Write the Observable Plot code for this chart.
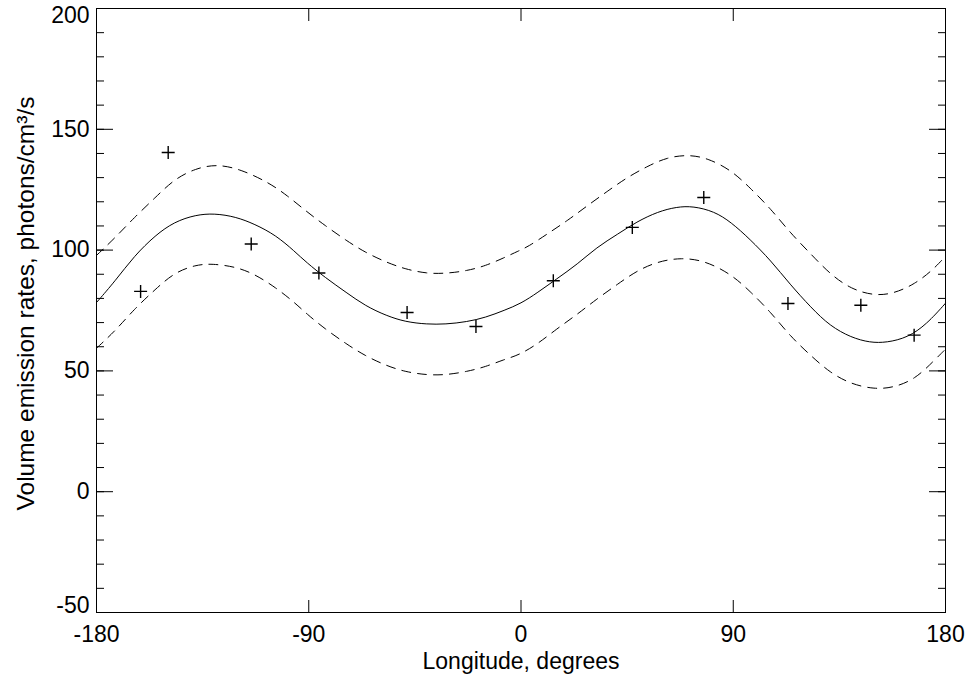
<!DOCTYPE html>
<html><head><meta charset="utf-8">
<script src="https://cdn.jsdelivr.net/npm/d3@7"></script>
<script src="https://cdn.jsdelivr.net/npm/@observablehq/plot@0.6"></script>
<style>body{margin:0;background:#fff}</style>
</head><body><div id="chart"></div>
<script>
// Tick values
const xTicks = [-180, -90, 0, 90, 180];
const yTicks = [-50, 0, 50, 100, 150, 200];
const yMinor = [-50, -40, -30, -20, -10, 0, 10, 20, 30, 40, 50, 60, 70, 80, 90, 100, 110, 120, 130, 140, 150, 160, 170, 180, 190, 200];

// Observations (crosses)
const obsLon = [-161.3, -149.6, -114.4, -85.7, -48.3, -19.1, 13.7, 47.2, 77.5, 113.2, 144.1, 166.7];
const obsVal = [82.9, 140.4, 102.5, 90.5, 74.2, 68.4, 87.3, 109.4, 121.8, 77.9, 77.2, 64.8];

// Fitted curve (solid)
const fitLon = [-180,-172,-164,-155,-147,-138,-130,-121,-113,-104,-96,-91,-83,-74,-66,-57,-49,-40,-32,-23,-15,-7,0,7,15,24,32,41,49,58,66,73,82,89,97,106,114,123,131,140,148,155,164,172,180];
const fitVal = [78.3,87.3,97.6,106.2,111.7,114.6,115.2,113.8,110.8,106.2,99.5,94.9,88.6,82.4,76.9,72.8,70.3,69.3,69.3,70.3,72.1,75.1,77.9,82.4,88,94.2,101.1,106.6,111.7,115.9,117.9,118.2,116,111.6,104.6,95.6,85.9,76.2,68.6,63.8,61.7,61.7,63.8,69.3,78];

// Upper bound (dashed)
const upLon = [-180,-172,-164,-155,-147,-138,-129,-119,-107,-99,-91,-83,-74,-66,-57,-49,-40,-32,-23,-15,-7,-1,3,11,20,28,37,45,54,62,71,79,89,97,106,114,123,131,140,150,158,167,175,180];
const upVal = [97.8,105.2,113.5,121.8,129.4,133.8,135.6,133.5,128,122.5,116,110.1,103.9,99,94.9,92.1,90.3,90.3,91.4,93.5,96.9,99.7,101.4,106.6,112.4,118.3,124.6,130.1,134.9,138.4,139.5,138.1,133.2,125.9,117,107.3,98.3,90.1,83.8,81.1,82,85.9,92.1,97.5];

// Lower bound (dashed)
const loLon = [-180,-172,-164,-155,-147,-138,-131,-121,-113,-104,-96,-91,-83,-74,-66,-57,-49,-40,-32,-23,-15,-7,-1,7,15,24,32,41,49,58,68,78,89,97,106,114,123,131,140,150,158,167,175,180];
const loVal = [59.4,66.6,75.6,83.8,90.7,93.9,94.4,93.1,90.1,84.5,78.3,73.7,67.3,61.1,56.2,52.1,49.6,48.3,48.3,49.7,51.7,54.8,56.5,61.1,67.3,73.5,79.7,85.9,91.4,95.3,96.9,95.6,90.1,83.1,74.2,64.5,56.2,49.3,44.5,42.4,43.1,46.5,54.1,59];

const xTitle = "Longitude, degrees";
const yTitle = "Volume emission rates, photons/cm³/s";

const zip = (a, b) => a.map((x, i) => ({x, y: b[i]}));
const obs = zip(obsLon, obsVal);
const fit = zip(fitLon, fitVal);
const up = zip(upLon, upVal);
const lo = zip(loLon, loVal);

const crossSym = {draw(ctx, size) {
  const r = Math.sqrt(size / Math.PI);
  ctx.moveTo(-r, 0); ctx.lineTo(r, 0);
  ctx.moveTo(0, -r); ctx.lineTo(0, r);
}};

const fmt = d => String(d);
const none = () => "";

const chart = Plot.plot({
  width: 971, height: 677,
  marginLeft: 96, marginRight: 26, marginTop: 8, marginBottom: 65,
  style: {fontFamily: "'Liberation Sans', Arial, Helvetica, sans-serif", fontSize: "23px", color: "black", background: "white", overflow: "visible"},
  x: {domain: [-180, 180], axis: null},
  y: {domain: [-50, 200], axis: null},
  marks: [
    Plot.line(up, {x: "x", y: "y", stroke: "black", strokeWidth: 1, strokeDasharray: "9,7", curve: "basis"}),
    Plot.line(lo, {x: "x", y: "y", stroke: "black", strokeWidth: 1, strokeDasharray: "9,7", curve: "basis"}),
    Plot.line(fit, {x: "x", y: "y", stroke: "black", strokeWidth: 1, curve: "basis"}),
    Plot.dot(obs, {x: "x", y: "y", symbol: crossSym, r: 6.5, stroke: "black", fill: "none", strokeWidth: 1.4}),
    Plot.frame({stroke: "black", strokeWidth: 1}),
    // inward ticks
    Plot.axisX(xTicks, {anchor: "bottom", tickSize: -12, tickFormat: none, label: null}),
    Plot.axisX(xTicks, {anchor: "top", tickSize: -12, tickFormat: none, label: null}),
    Plot.axisY(yMinor, {anchor: "left", tickSize: -8, tickFormat: none, label: null}),
    Plot.axisY(yMinor, {anchor: "right", tickSize: -8, tickFormat: none, label: null}),
    Plot.axisY(yTicks, {anchor: "left", tickSize: -17, tickFormat: none, label: null}),
    Plot.axisY(yTicks, {anchor: "right", tickSize: -17, tickFormat: none, label: null}),
    // tick labels
    Plot.axisX(xTicks, {anchor: "bottom", tickSize: 0, tickPadding: 13, tickFormat: fmt, label: null}),
    Plot.axisY(yTicks.filter(d => d > -50 && d < 200), {anchor: "left", tickSize: 0, tickPadding: 7, tickFormat: fmt, label: null}),
    Plot.axisY([200], {anchor: "left", tickSize: 0, tickPadding: 7, tickFormat: fmt, label: null, dy: 7}),
    Plot.axisY([-50], {anchor: "left", tickSize: 0, tickPadding: 7, tickFormat: fmt, label: null, dy: -7}),
    // titles
    Plot.text([xTitle], {frameAnchor: "bottom", text: d => d, textAnchor: "middle", lineAnchor: "bottom", dy: 56}),
    Plot.text([yTitle], {frameAnchor: "left", text: d => d, textAnchor: "middle", rotate: -90, lineAnchor: "bottom", dx: -63, dy: -7, fontSize: 24.5})
  ]
});
document.getElementById("chart").appendChild(chart);
</script>
</body></html>
